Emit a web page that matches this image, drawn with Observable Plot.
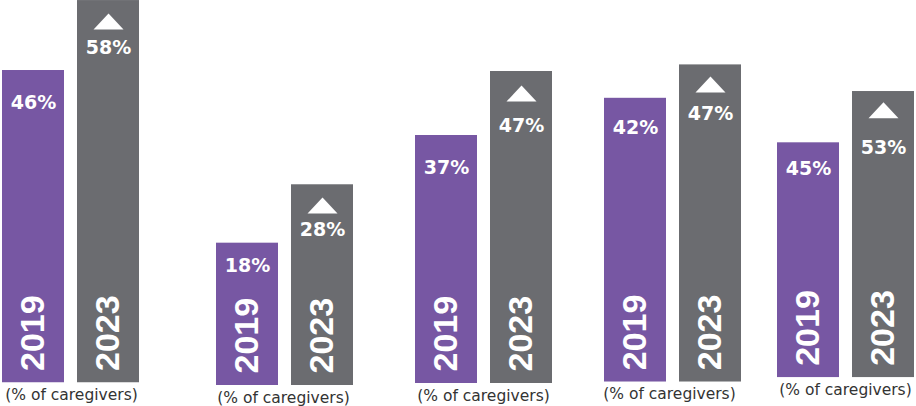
<!DOCTYPE html>
<html>
<head>
<meta charset="utf-8">
<script src="https://cdn.jsdelivr.net/npm/d3@7"></script>
<script src="https://cdn.jsdelivr.net/npm/@observablehq/plot@0.6"></script>
<style>
  html, body { margin: 0; padding: 0; background: #fff; }
  #chart { position: relative; width: 916px; height: 406px; overflow: hidden; background: #fff; }
  .panel { position: absolute; top: 0; }
  .panel svg { overflow: visible; max-width: none; }
</style>
</head>
<body>
<div id="chart"></div>
<script>
// ---- data ----
const panels = [1, 2, 3, 4, 5];
const years = ["2019", "2023"];
const share2019 = [46, 18, 37, 42, 45];
const share2023 = [58, 28, 47, 47, 53];
const captionText = "(% of caregivers)";

// ---- layout (per panel) ----
const panelLeft = [1.7, 216, 415.3, 604, 777.3];
const panelBase = [382.5, 385, 383, 381.7, 377.3];
const yLo = [-7.6, -6.37, -1.75, -0.5, 8.34];
const pxPerPct = [5.83, 5.84, 6.4, 6.68, 6.41];
const dy2019 = [32, 23, 32, 30, 26];
const dyTri = [21, 20.7, 22, 19.7, 18.7];
const dy2023 = [47, 45.4, 54, 48.7, 56];
const captionDx = [0, -2, -1, -4, -1];

const purple = "#7757a3";
const gray = "#6b6c70";
const panelWidth = 138;

const flatTriangle = {
  draw(ctx) {
    const w = 15, h = 8;
    ctx.moveTo(0, -h);
    ctx.lineTo(w, h);
    ctx.lineTo(-w, h);
    ctx.closePath();
  }
};

const chart = document.getElementById("chart");

panels.forEach((p, i) => {
  const rows = [
    {year: years[0], value: share2019[i]},
    {year: years[1], value: share2023[i]}
  ];
  const base = panelBase[i];
  const lo = yLo[i];
  const hi = lo + base / pxPerPct[i];
  const marginBottom = 26;

  const plot = Plot.plot({
    width: panelWidth,
    height: base + marginBottom,
    marginTop: 0,
    marginLeft: 0,
    marginRight: 0,
    marginBottom,
    x: {domain: years, paddingInner: 0.1667, paddingOuter: 0, axis: null},
    y: {domain: [lo, hi], axis: null},
    color: {domain: years, range: [purple, gray]},
    marks: [
      Plot.barY(rows, {x: "year", y1: () => lo, y2: "value", fill: "year", clip: true}),
      Plot.text(rows, {
        filter: d => d.year === years[0],
        x: "year", y: "value", text: d => d.value + "%",
        dy: dy2019[i], fill: "white", fontSize: 19, fontWeight: 700,
        fontFamily: "DejaVu Sans, sans-serif"
      }),
      Plot.dot(rows, {
        filter: d => d.year === years[1],
        x: "year", y: "value", symbol: flatTriangle, fill: "white",
        stroke: "none", dy: dyTri[i]
      }),
      Plot.text(rows, {
        filter: d => d.year === years[1],
        x: "year", y: "value", text: d => d.value + "%",
        dy: dy2023[i], fill: "white", fontSize: 19, fontWeight: 700,
        fontFamily: "DejaVu Sans, sans-serif"
      }),
      Plot.text(rows, {
        x: "year", y: () => lo, text: "year",
        rotate: -90, textAnchor: "start", dy: -12,
        fill: "white", fontSize: 34, fontWeight: 700,
        fontFamily: "Liberation Sans, Arial, sans-serif"
      }),
      Plot.text([captionText], {
        frameAnchor: "bottom", text: d => d, dy: 17, dx: captionDx[i],
        fill: "#333", fontSize: 15.5,
        fontFamily: "DejaVu Sans, sans-serif"
      })
    ]
  });
  const div = document.createElement("div");
  div.className = "panel";
  div.style.left = panelLeft[i] + "px";
  div.appendChild(plot);
  chart.appendChild(div);
});
</script>
</body>
</html>
